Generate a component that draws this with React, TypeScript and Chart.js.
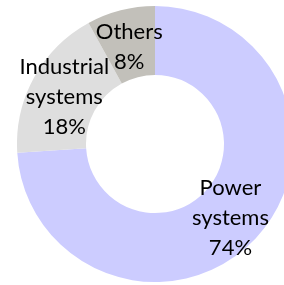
import React, { useEffect, useRef } from "react";
import { Chart, registerables } from "chart.js";

Chart.register(...registerables);

const categories: string[][] = [["Power", "systems"], ["Industrial", "systems"], ["Others"]];
const shares: number[] = [74, 18, 8];
const colors: string[] = ["#CCCCFF", "#DEDEDE", "#C2C0BA"];

const FONT = "Lato, 'Open Sans', sans-serif";

const labelPlugin = {
  id: "sliceLabels",
  afterDatasetsDraw(chart: any) {
    const ctx = chart.ctx as CanvasRenderingContext2D;
    const meta = chart.getDatasetMeta(0);
    ctx.save();
    ctx.fillStyle = "#000000";
    ctx.font = `22px ${FONT}`;
    ctx.textAlign = "center";
    ctx.textBaseline = "middle";
    const lineH = 30;
    meta.data.forEach((arc: any, i: number) => {
      const p = arc.tooltipPosition();
      const lines = [...categories[i], `${shares[i]}%`];
      const startY = p.y + 3 - ((lines.length - 1) * lineH) / 2;
      lines.forEach((t, j) => ctx.fillText(t, p.x, startY + j * lineH));
    });
    ctx.restore();
  },
};

export default function App() {
  const ref = useRef<HTMLCanvasElement | null>(null);
  useEffect(() => {
    if (!ref.current) return;
    const chart = new Chart(ref.current, {
      type: "doughnut",
      data: {
        labels: categories.map((c) => c.join(" ")),
        datasets: [
          {
            data: shares,
            backgroundColor: colors,
            borderWidth: 0,
          },
        ],
      },
      options: {
        animation: false,
        responsive: false,
        cutout: "50%",
        layout: { padding: 0 },
        plugins: { legend: { display: false }, tooltip: { enabled: false } },
      },
      plugins: [labelPlugin],
    });
    return () => chart.destroy();
  }, []);
  return (
    <div style={{ position: "fixed", left: 0, top: 0, width: 284, height: 285, overflow: "hidden", background: "#fff" }}>
      <div style={{ position: "absolute", left: 17, top: 6, width: 276, height: 276 }}>
        <canvas ref={ref} width={276} height={276} style={{ width: 276, height: 276 }} />
      </div>
    </div>
  );
}
